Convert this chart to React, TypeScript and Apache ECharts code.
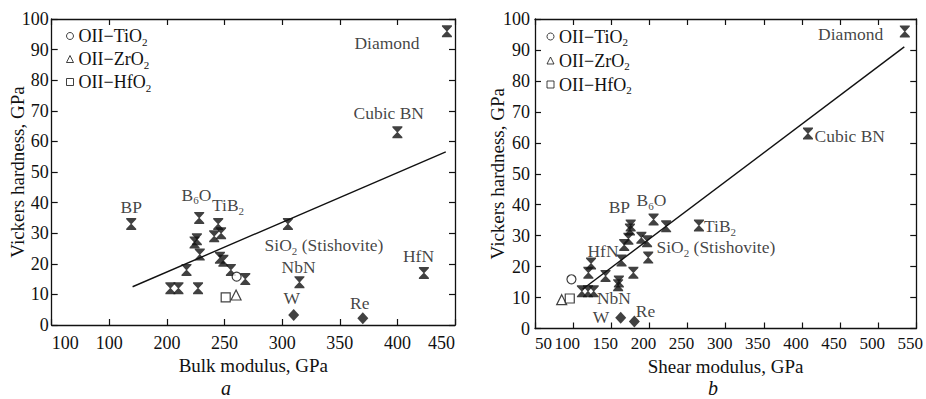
import React, { useEffect, useRef } from "react";
import * as echarts from "echarts";

const FONT = "'Liberation Serif', 'Times New Roman', Times, serif";

// ---------- tick labels ----------
const xTicksA = ["100", "100", "200", "250", "300", "350", "400", "450"];
const xTicksB = ["50", "100", "150", "200", "250", "300", "350", "400", "450", "500", "550"];
const yTicks = ["0", "10", "20", "30", "40", "50", "60", "70", "80", "90", "100"];

// ---------- panel a: Vickers hardness vs bulk modulus ----------
const superhardA: [number, number][] = [
  [169, 33], [228, 35], [226, 28], [224, 27], [228.5, 23], [217, 18],
  [203, 12], [210, 12], [227, 12], [244.5, 33], [241, 29], [247, 30],
  [246, 22], [249, 21], [255.5, 18], [268, 15], [305, 33], [315, 14],
  [423, 17], [443, 96], [400, 63],
];
const metalsA: [number, number][] = [[310, 3.3], [370, 2.2]];
const tio2A: [number, number][] = [[260.5, 15.8]];
const zro2A: [number, number][] = [[260, 9.8]];
const hfo2A: [number, number][] = [[251, 9]];
const fitA: [number, number][] = [[170.2, 12.5], [442, 56.6]];
const labelTextA = ["Diamond", "Cubic BN", "BP", "B{s|6}O", "TiB{s|2}", "SiO{s|2} (Stishovite)", "NbN", "HfN", "W", "Re"];
const labelAtA: [number, number][] = [
  [391, 92.2], [392.5, 69.2], [169, 38.6], [225.6, 42.6], [253, 39.2],
  [336.3, 26.1], [314.3, 18.9], [418.3, 22.6], [308.4, 8.7], [367.4, 7.1],
];

// ---------- panel b: Vickers hardness vs shear modulus ----------
const superhardB: [number, number][] = [
  [111.5, 12], [119.5, 12], [127, 12], [120, 18], [123.5, 21], [142.5, 17],
  [160, 15.2], [159, 14], [163.5, 22], [167, 27], [172.5, 29], [174.5, 32],
  [175.5, 33.3], [179, 18], [189.5, 29.3], [197, 28.2], [198.5, 22.9],
  [205.5, 35.2], [222, 33], [265, 33.3], [535, 96], [408, 63],
];
const metalsB: [number, number][] = [[162.4, 3.5], [180.3, 2.3]];
const tio2B: [number, number][] = [[97.8, 15.9]];
const zro2B: [number, number][] = [[85, 9.3]];
const hfo2B: [number, number][] = [[95.6, 9.7]];
const fitB: [number, number][] = [[112.4, 12.7], [534.3, 91]];
const labelTextB = ["Diamond", "Cubic BN", "TiB{s|2}", "SiO{s|2} (Stishovite)", "B{s|6}O", "BP", "HfN", "NbN", "W", "Re"];
const labelAtB: [number, number][] = [
  [464, 95], [416.5, 62.2], [271.6, 33.1], [209.3, 26.3], [202.7, 41.5],
  [160.6, 39.1], [139.2, 25.1], [153.6, 10], [136.6, 3.6], [195, 5.7],
];
const leftAlignedB = ["Cubic BN", "TiB{s|2}", "SiO{s|2} (Stishovite)"];

const seriesNames = ["OII\u2212TiO2", "OII\u2212ZrO2", "OII\u2212HfO2"];
const legendIcons = ["circle", "triangle", "rect"];

const HOURGLASS = "path://M0,0L10,0L10,1.2L5.5,6L10,10.8L10,12L0,12L0,10.8L4.5,6L0,1.2Z";
const INK = "#111";

const subRich = {
  s: { fontSize: 11, lineHeight: 11, verticalAlign: "top", padding: [11, 0, 0, 0], fontFamily: FONT, color: INK },
};

function axisCommon() {
  return {
    type: "value",
    axisLine: { show: true, onZero: false, lineStyle: { color: INK, width: 1.3 } },
    axisTick: { show: true, inside: true, length: 6, lineStyle: { color: INK, width: 1.2 } },
    splitLine: { show: false },
    nameMoveOverlap: false,
  };
}

function buildPanel(
  gi: number,
  superhard: [number, number][],
  metals: [number, number][],
  tio2: [number, number][],
  zro2: [number, number][],
  hfo2: [number, number][],
  fit: [number, number][],
  labelText: string[],
  labelAt: [number, number][],
  leftAligned: string[]
) {
  const xi = gi * 2;
  const yi = gi * 2;
  const base = { xAxisIndex: xi, yAxisIndex: yi };
  return [
    {
      ...base,
      type: "line",
      data: fit,
      symbol: "none",
      lineStyle: { color: INK, width: 1.4 },
      silent: true,
      z: 2,
    },
    {
      ...base,
      type: "scatter",
      name: "superhard",
      data: superhard,
      symbol: HOURGLASS,
      symbolSize: [10, 12],
      itemStyle: { color: INK },
      z: 3,
    },
    {
      ...base,
      type: "scatter",
      name: "metals",
      data: metals,
      symbol: "diamond",
      symbolSize: [11, 12],
      itemStyle: { color: INK },
      z: 3,
    },
    {
      ...base,
      type: "scatter",
      name: seriesNames[0],
      data: tio2,
      symbol: "circle",
      symbolSize: 9,
      itemStyle: { color: "#fff", borderColor: INK, borderWidth: 1.2 },
      z: 3,
    },
    {
      ...base,
      type: "scatter",
      name: seriesNames[1],
      data: zro2,
      symbol: "triangle",
      symbolSize: 10,
      itemStyle: { color: "#fff", borderColor: INK, borderWidth: 1.2 },
      z: 3,
    },
    {
      ...base,
      type: "scatter",
      name: seriesNames[2],
      data: hfo2,
      symbol: "rect",
      symbolSize: 9,
      itemStyle: { color: "#fff", borderColor: INK, borderWidth: 1.2 },
      z: 3,
    },
    {
      ...base,
      type: "scatter",
      name: "labels",
      silent: true,
      symbol: "circle",
      symbolSize: 1,
      itemStyle: { color: "rgba(0,0,0,0)" },
      z: 4,
      data: labelText.map((t, i) => ({
        name: t,
        value: labelAt[i],
        label: leftAligned.indexOf(t) >= 0 ? { align: "left" } : undefined,
      })),
      label: {
        show: true,
        position: "inside",
        formatter: "{b}",
        color: INK,
        fontFamily: FONT,
        fontSize: 17.5,
        lineHeight: 22,
        rich: subRich,
      },
    },
  ];
}

export default function App() {
  const ref = useRef<HTMLDivElement>(null);

  useEffect(() => {
    if (!ref.current) return;
    const chart = echarts.init(ref.current, undefined, { renderer: "svg" });

    const tickLabel = { color: INK, fontFamily: FONT, fontSize: 18 };
    const nameStyle = { color: INK, fontFamily: FONT, fontSize: 19 };

    const legendCommon = {
      orient: "vertical",
      padding: 0,
      selectedMode: false,
      itemWidth: 7,
      itemHeight: 7,
      itemGap: 1,
      itemStyle: { color: "#fff", borderColor: INK, borderWidth: 1 },
      data: seriesNames.map((n, i) => ({ name: n, icon: legendIcons[i] })),
      formatter: (n: string) => n.replace(/(\d)$/, "{s|$1}"),
      textStyle: {
        color: INK,
        fontFamily: FONT,
        fontSize: 18,
        lineHeight: 22,
        rich: subRich,
      },
    };

    const option: any = {
      animation: false,
      backgroundColor: "#fff",
      textStyle: { fontFamily: FONT },
      grid: [
        { left: 51.7, top: 19, width: 403.3, height: 306 },
        { left: 535, top: 19, width: 382, height: 309.5 },
      ],
      legend: [
        { ...legendCommon, left: 66, top: 25 },
        { ...legendCommon, left: 546.5, top: 25.5, itemGap: 2 },
      ],
      xAxis: [
        {
          ...axisCommon(),
          gridIndex: 0,
          position: "bottom",
          min: 100,
          max: 450,
          interval: 50,
          axisLabel: {
            ...tickLabel,
            margin: 9,
            showMinLabel: true,
            showMaxLabel: true,
            hideOverlap: false,
            alignMinLabel: "left",
            alignMaxLabel: "right",
            formatter: (_v: number, i: number) => xTicksA[i],
          },
          name: "Bulk modulus, GPa",
          nameLocation: "middle",
          nameGap: 31,
          nameTextStyle: nameStyle,
        },
        {
          ...axisCommon(),
          gridIndex: 0,
          position: "top",
          min: 100,
          max: 450,
          interval: 50,
          axisLabel: { show: false },
        },
        {
          ...axisCommon(),
          gridIndex: 1,
          position: "bottom",
          min: 50,
          max: 550,
          interval: 50,
          axisLabel: {
            ...tickLabel,
            fontSize: 17,
            margin: 6,
            showMinLabel: true,
            showMaxLabel: true,
            hideOverlap: false,
            alignMinLabel: "left",
            formatter: (_v: number, i: number) => (i === 0 ? xTicksB[i] : `{p|${xTicksB[i]}}`),
            rich: {
              p: { fontFamily: FONT, fontSize: 17, color: INK, padding: [0, 12, 0, 0] },
            },
          },
          name: "Shear modulus, GPa",
          nameLocation: "middle",
          nameGap: 28,
          nameTextStyle: nameStyle,
        },
        {
          ...axisCommon(),
          gridIndex: 1,
          position: "top",
          min: 50,
          max: 550,
          interval: 50,
          axisLabel: { show: false },
        },
      ],
      yAxis: [
        {
          ...axisCommon(),
          gridIndex: 0,
          position: "left",
          min: 0,
          max: 100,
          interval: 10,
          axisLabel: { ...tickLabel, margin: 3, formatter: (_v: number, i: number) => yTicks[i] },
          name: "Vickers hardness, GPa",
          nameLocation: "middle",
          nameGap: 25,
          nameRotate: 90,
          nameTextStyle: nameStyle,
        },
        {
          ...axisCommon(),
          gridIndex: 0,
          position: "right",
          min: 0,
          max: 100,
          interval: 10,
          axisLabel: { show: false },
        },
        {
          ...axisCommon(),
          gridIndex: 1,
          position: "left",
          min: 0,
          max: 100,
          interval: 10,
          axisLabel: { ...tickLabel, margin: 5, formatter: (_v: number, i: number) => yTicks[i] },
          name: "Vickers hardness, GPa",
          nameLocation: "middle",
          nameGap: 28,
          nameRotate: 90,
          nameTextStyle: nameStyle,
        },
        {
          ...axisCommon(),
          gridIndex: 1,
          position: "right",
          min: 0,
          max: 100,
          interval: 10,
          axisLabel: { show: false },
        },
      ],
      series: [
        ...buildPanel(0, superhardA, metalsA, tio2A, zro2A, hfo2A, fitA, labelTextA, labelAtA, []),
        ...buildPanel(1, superhardB, metalsB, tio2B, zro2B, hfo2B, fitB, labelTextB, labelAtB, leftAlignedB),
      ],
      graphic: [
        {
          type: "text",
          left: 221,
          top: 378,
          style: { text: "a", fill: INK, font: `italic 20px ${FONT}` },
        },
        {
          type: "text",
          left: 708,
          top: 378,
          style: { text: "b", fill: INK, font: `italic 20px ${FONT}` },
        },
      ],
    };

    chart.setOption(option);
    return () => chart.dispose();
  }, []);

  return (
    <div
      ref={ref}
      style={{ position: "absolute", left: 0, top: 0, width: 926, height: 399, background: "#fff" }}
    />
  );
}
